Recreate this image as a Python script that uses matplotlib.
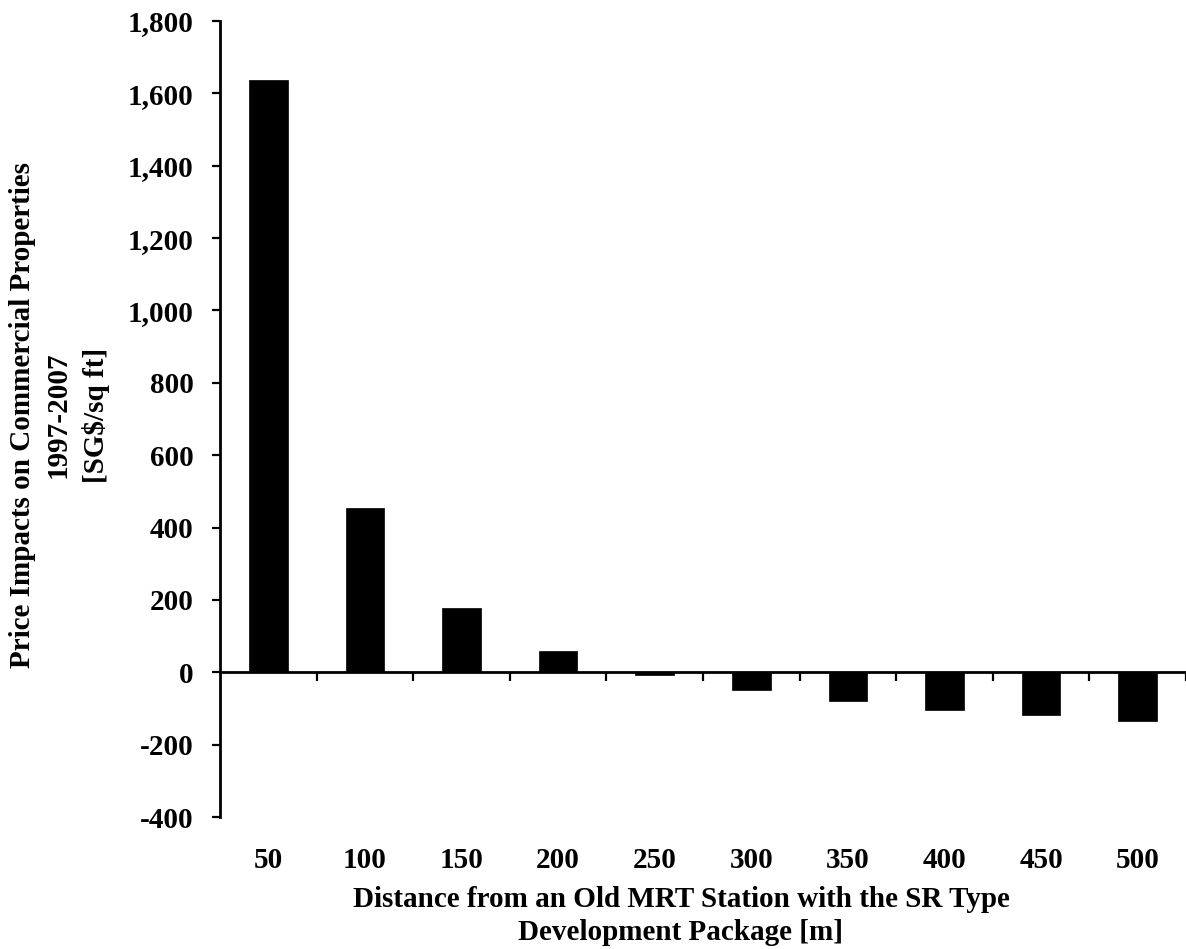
import matplotlib
matplotlib.use("Agg")
import matplotlib.pyplot as plt
from matplotlib.ticker import FuncFormatter, FixedLocator
import matplotlib.transforms as mtransforms

categories = ["50", "100", "150", "200", "250", "300", "350", "400", "450", "500"]
values = [1638, 453, 178, 60, -7, -48, -80, -104, -118, -135]
yticks = [-400, -200, 0, 200, 400, 600, 800, 1000, 1200, 1400, 1600, 1800]
xlabel = "Distance from an Old MRT Station with the SR Type\nDevelopment Package [m]"
ylabel = "Price Impacts on Commercial Properties\n1997-2007\n[SG$/sq ft]"

plt.rcParams['font.family'] = ['Liberation Serif', 'DejaVu Serif']
plt.rcParams['font.weight'] = 'bold'
plt.rcParams['axes.unicode_minus'] = False
FS = 21

W, H = 1186, 949
fig = plt.figure(figsize=(W / 100, H / 100), dpi=100)
left, right, top, bottom = 220, 1186, 21, 817
ax = fig.add_axes([left / W, 1 - bottom / H, (right - left) / W, (bottom - top) / H])

x = list(range(len(categories)))
ax.bar(x, values, width=0.4, color='black', edgecolor='black', linewidth=0.5, zorder=3)

ax.set_xlim(-0.5, len(categories) - 0.5)
ax.set_ylim(-400, 1800)

for s in ['top', 'right']:
    ax.spines[s].set_visible(False)
ax.spines['bottom'].set_position(('data', 0))
ax.spines['left'].set_linewidth(2)
ax.spines['bottom'].set_linewidth(2)
ax.spines['bottom'].set_zorder(4)

ax.set_yticks(yticks)
ax.yaxis.set_major_formatter(FuncFormatter(lambda v, p: f"{int(v):,}"))
ax.tick_params(axis='y', direction='out', length=6, width=1.6, pad=13, labelsize=FS)
for lab in ax.get_yticklabels():
    lab.set_fontweight('bold')

bounds = [i + 0.5 for i in range(len(categories))]
ax.xaxis.set_major_locator(FixedLocator(bounds))
ax.set_xticklabels([])
ax.tick_params(axis='x', direction='out', length=6.5, width=1.6)

trans = mtransforms.blended_transform_factory(ax.transData, ax.transAxes)
for xi, lab in zip(x, categories):
    ax.text(xi, -43 / 796, lab, transform=trans, ha='center', va='center',
            fontsize=FS, fontweight='bold')

fig.text(681 / W, 1 - 886 / H, xlabel, ha='center', va='top', fontsize=FS,
         fontweight='bold', linespacing=1.3)

ax.set_ylabel(ylabel, fontsize=FS, fontweight='bold', linespacing=1.45)
ax.yaxis.set_label_coords(-0.114, 0.505)

fig.savefig("out.png", dpi=100)
